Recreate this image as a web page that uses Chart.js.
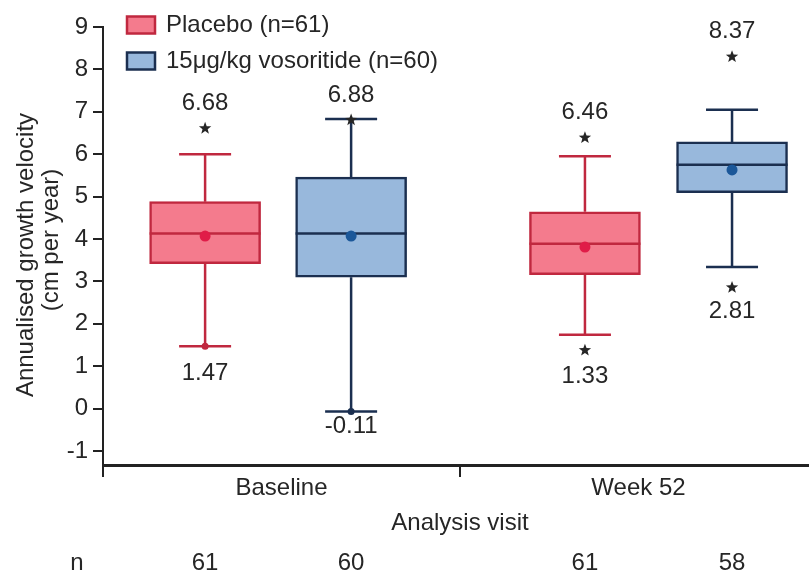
<!DOCTYPE html>
<html>
<head>
<meta charset="utf-8">
<script src="https://cdn.jsdelivr.net/npm/chart.js@4.4.1/dist/chart.umd.min.js"></script>
<style>
  html, body { margin: 0; padding: 0; background: #ffffff; overflow: hidden; }
  #wrap { width: 809px; height: 573px; overflow: hidden; }
</style>
</head>
<body>
<div id="wrap"><canvas id="c" width="817" height="573"></canvas></div>
<script>
// ---------- DATA ----------
const categories = ['Baseline', 'Week 52'];
const seriesNames = ['Placebo (n=61)', '15μg/kg vosoritide (n=60)'];
const yTickValues = [-1, 0, 1, 2, 3, 4, 5, 6, 7, 8, 9];
const yTitleLines = ['Annualised growth velocity', '(cm per year)'];
const xTitle = 'Analysis visit';

// boxes in order: Placebo Baseline, Vosoritide Baseline, Placebo Week 52, Vosoritide Week 52
const boxSeries = [0, 1, 0, 1];
const boxPositions = [0.286, 0.695, 1.35, 1.762];   // position along the visit axis (0..2)
const whiskerLow  = [1.47, -0.07, 1.74, 3.34];
const q1Values    = [3.42, 3.10, 3.16, 5.09];
const medianVals  = [4.13, 4.13, 3.89, 5.75];
const meanVals    = [4.07, 4.07, 3.81, 5.63];
const q3Values    = [4.88, 5.46, 4.64, 6.29];
const whiskerHigh = [6.00, 6.83, 5.95, 7.05];
const maxValues   = [6.68, 6.88, 6.46, 8.37];
const minValues   = [1.47, -0.11, 1.33, 2.81];
const nCounts     = [61, 60, 61, 58];

// ---------- STYLE ----------
const FONT = "'Liberation Sans', Arial, Helvetica, sans-serif";
const FS = 24;
const TXT = '#262626';
const fills   = ['#f47b8d', '#98b8dc'];
const borders = ['#c0283f', '#1b2f50'];
const meanCol = ['#e01c48', '#1b5799'];
const minLabelGap = [27, 13, 24, 22];

function buildData(s) {
  const out = [];
  for (let i = 0; i < boxSeries.length; i++) {
    if (boxSeries[i] === s) out.push({ x: boxPositions[i], y: [q1Values[i], q3Values[i]] });
  }
  return out;
}

function drawStar(ctx, cx, cy, r) {
  ctx.beginPath();
  for (let k = 0; k < 10; k++) {
    const rad = k % 2 === 0 ? r : r * 0.42;
    const a = -Math.PI / 2 + k * Math.PI / 5;
    const px = cx + rad * Math.cos(a), py = cy + rad * Math.sin(a);
    if (k === 0) ctx.moveTo(px, py); else ctx.lineTo(px, py);
  }
  ctx.closePath();
  ctx.fill();
}

const boxPlugin = {
  id: 'boxExtras',
  afterDatasetsDraw(chart) {
    const ctx = chart.ctx;
    const xs = chart.scales.xPos, ys = chart.scales.y;
    const halfBox = 55.5, halfCap = 26;
    ctx.save();
    for (let i = 0; i < boxSeries.length; i++) {
      const s = boxSeries[i];
      const cx = xs.getPixelForValue(boxPositions[i]);
      const yq1 = ys.getPixelForValue(q1Values[i]);
      const yq3 = ys.getPixelForValue(q3Values[i]);
      const ylo = ys.getPixelForValue(whiskerLow[i]);
      const yhi = ys.getPixelForValue(whiskerHigh[i]);
      const ymed = ys.getPixelForValue(medianVals[i]);
      const ymean = ys.getPixelForValue(meanVals[i]);
      ctx.strokeStyle = borders[s];
      ctx.lineWidth = 2.5;
      ctx.lineCap = 'butt';
      ctx.beginPath();
      ctx.moveTo(cx, yq3); ctx.lineTo(cx, yhi);
      ctx.moveTo(cx - halfCap, yhi); ctx.lineTo(cx + halfCap, yhi);
      ctx.moveTo(cx, yq1); ctx.lineTo(cx, ylo);
      ctx.moveTo(cx - halfCap, ylo); ctx.lineTo(cx + halfCap, ylo);
      ctx.moveTo(cx - halfBox, ymed); ctx.lineTo(cx + halfBox, ymed);
      ctx.stroke();
      // mean
      ctx.fillStyle = meanCol[s];
      ctx.beginPath(); ctx.arc(cx, ymean, 5.5, 0, Math.PI * 2); ctx.fill();

      // extremes
      ctx.font = FS + 'px ' + FONT;
      ctx.textAlign = 'center';
      ctx.textBaseline = 'middle';
      const ymax = ys.getPixelForValue(maxValues[i]);
      ctx.fillStyle = TXT;
      drawStar(ctx, cx, ymax + 3, 6.5);
      ctx.fillText(maxValues[i].toFixed(2), cx, ymax - 22);
      const ymin = ys.getPixelForValue(minValues[i]);
      const beyond = whiskerLow[i] - minValues[i] > 0.1;
      if (beyond) {
        ctx.fillStyle = TXT;
        drawStar(ctx, cx, ymin - 2, 6.5);
      } else {
        ctx.fillStyle = borders[s];
        ctx.beginPath(); ctx.arc(cx, ys.getPixelForValue(whiskerLow[i]), 3.5, 0, Math.PI * 2); ctx.fill();
      }
      ctx.fillStyle = TXT;
      ctx.fillText(minValues[i].toFixed(2), cx, ymin + minLabelGap[i]);

      // n row
      ctx.fillText(String(nCounts[i]), cx, 563);
    }
    ctx.restore();
  },
  afterDraw(chart) {
    const ctx = chart.ctx;
    const ca = chart.chartArea;
    const xcat = chart.scales.x;
    ctx.save();
    ctx.font = FS + 'px ' + FONT;
    ctx.fillStyle = TXT;
    ctx.textBaseline = 'middle';
    // x title
    ctx.textAlign = 'center';
    ctx.fillText(xTitle, (xcat.left + xcat.right) / 2, 523);
    ctx.fillText('n', 77, 563);
    // y title
    const midY = (ca.top + ca.bottom) / 2;
    ctx.save();
    ctx.translate(26, midY + 9);
    ctx.rotate(-Math.PI / 2);
    ctx.fillText(yTitleLines[0], 0, 0);
    ctx.restore();
    ctx.save();
    ctx.translate(51, midY - 6);
    ctx.rotate(-Math.PI / 2);
    ctx.fillText(yTitleLines[1], 0, 0);
    ctx.restore();
    // legend
    const rows = [25, 61];
    for (let s = 0; s < seriesNames.length; s++) {
      ctx.fillStyle = fills[s];
      ctx.fillRect(127, rows[s] - 8.5, 28, 17);
      ctx.strokeStyle = borders[s];
      ctx.lineWidth = 2.5;
      ctx.strokeRect(127, rows[s] - 8.5, 28, 17);
      ctx.fillStyle = TXT;
      ctx.textAlign = 'left';
      ctx.fillText(chart.data.datasets[s].label, 166, rows[s]);
    }
    ctx.restore();
  }
};

const chart = new Chart(document.getElementById('c'), {
  type: 'bar',
  data: {
    labels: categories,
    datasets: seriesNames.map((name, s) => ({
      label: name,
      xAxisID: 'xPos',
      yAxisID: 'y',
      data: buildData(s),
      backgroundColor: fills[s],
      borderColor: borders[s],
      borderWidth: 2.5,
      borderSkipped: false,
      grouped: false,
      barThickness: 111
    }))
  },
  options: {
    responsive: false,
    animation: false,
    events: [],
    layout: { padding: { top: 27, left: 0, right: 0, bottom: 0 } },
    scales: {
      x: {
        type: 'category',
        position: 'bottom',
        offset: true,
        grid: { offset: true, drawOnChartArea: false, tickLength: 12, color: '#222', lineWidth: 2 },
        border: { color: '#222', width: 3 },
        ticks: { color: TXT, font: { family: FONT, size: FS }, padding: -3, maxRotation: 0 },
        afterFit: (s) => { s.height = 108; }
      },
      xPos: { type: 'linear', display: false, offset: false, min: 0, max: 2 },
      y: {
        min: -1.33,
        max: 9,
        afterBuildTicks: (axis) => { axis.ticks = yTickValues.map(v => ({ value: v })); },
        grid: { drawOnChartArea: false, tickLength: 10, color: '#222', lineWidth: 2 },
        border: { color: '#222', width: 2 },
        ticks: { color: TXT, font: { family: FONT, size: FS }, padding: 5 },
        afterFit: (s) => { s.width = 103; }
      }
    },
    plugins: { legend: { display: false }, tooltip: { enabled: false } }
  },
  plugins: [boxPlugin]
});
</script>
</body>
</html>
